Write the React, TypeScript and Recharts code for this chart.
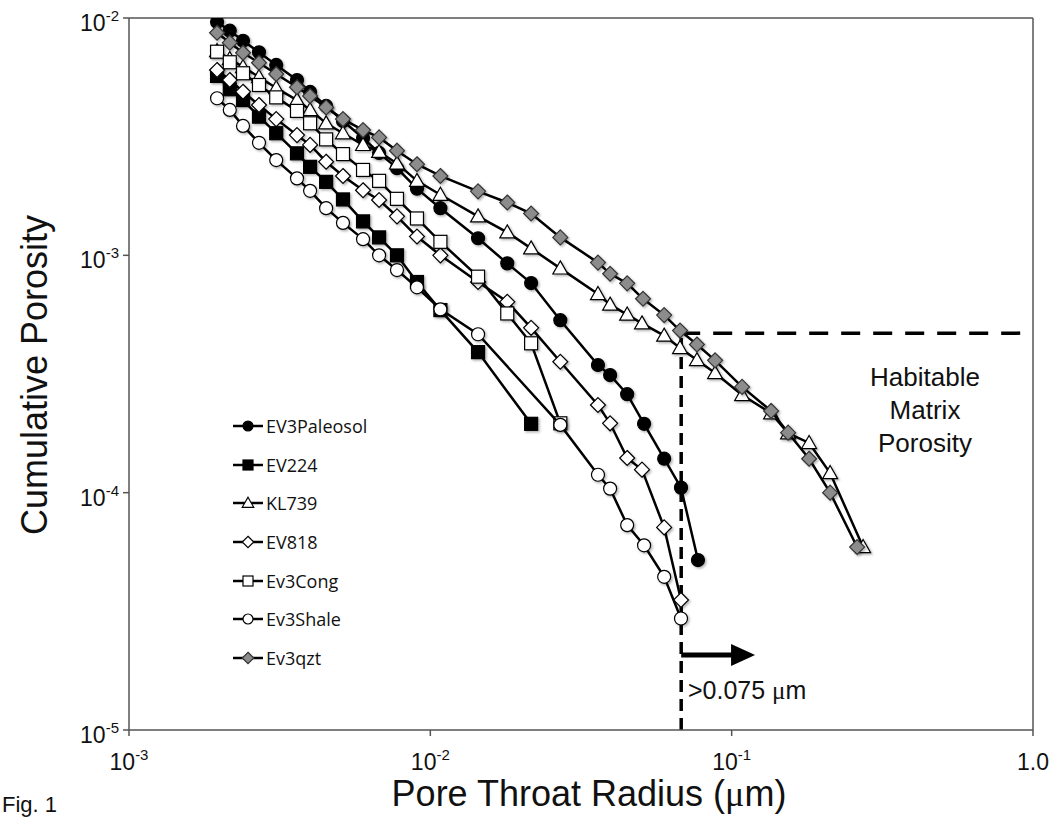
import { ScatterChart, Scatter, XAxis, YAxis, ReferenceLine, ReferenceDot, Legend } from 'recharts';

// pore throat radius (µm) vs cumulative porosity
const paleosol = [
  { r: 0.00196, p: 0.00962 }, { r: 0.00216, p: 0.00884 }, { r: 0.00239, p: 0.00802 }, { r: 0.0027, p: 0.00717 },
  { r: 0.00308, p: 0.00634 }, { r: 0.00361, p: 0.00548 }, { r: 0.00399, p: 0.00488 }, { r: 0.00451, p: 0.00426 },
  { r: 0.00513, p: 0.00368 }, { r: 0.00598, p: 0.00312 }, { r: 0.00676, p: 0.0027 }, { r: 0.00775, p: 0.00233 },
  { r: 0.00903, p: 0.00191 }, { r: 0.0108, p: 0.00158 }, { r: 0.0144, p: 0.00118 }, { r: 0.018, p: 0.000925 },
  { r: 0.0216, p: 0.000764 }, { r: 0.027, p: 0.000533 }, { r: 0.036, p: 0.000345 }, { r: 0.0395, p: 0.000313 },
  { r: 0.045, p: 0.00026 }, { r: 0.0512, p: 0.000195 }, { r: 0.0597, p: 0.000139 }, { r: 0.0679, p: 0.000105 },
  { r: 0.0773, p: 0.000052 },
];

const ev224 = [
  { r: 0.00196, p: 0.0057 }, { r: 0.00216, p: 0.00501 }, { r: 0.00239, p: 0.00451 }, { r: 0.0027, p: 0.00384 },
  { r: 0.00308, p: 0.00327 }, { r: 0.00361, p: 0.00269 }, { r: 0.00399, p: 0.00236 }, { r: 0.00451, p: 0.00204 },
  { r: 0.00513, p: 0.00172 }, { r: 0.00598, p: 0.00139 }, { r: 0.00676, p: 0.00119 }, { r: 0.00775, p: 0.001 },
  { r: 0.00903, p: 0.000772 }, { r: 0.0108, p: 0.000588 }, { r: 0.0144, p: 0.000391 }, { r: 0.0216, p: 0.000195 },
];

const kl739 = [
  { r: 0.00196, p: 0.00726 }, { r: 0.00216, p: 0.00672 }, { r: 0.00239, p: 0.00622 }, { r: 0.0027, p: 0.00564 },
  { r: 0.00308, p: 0.00507 }, { r: 0.00361, p: 0.00451 }, { r: 0.00399, p: 0.0041 }, { r: 0.00451, p: 0.0036 },
  { r: 0.00513, p: 0.00327 }, { r: 0.00598, p: 0.00292 }, { r: 0.00676, p: 0.00273 }, { r: 0.00775, p: 0.00244 },
  { r: 0.00903, p: 0.00206 }, { r: 0.0108, p: 0.0018 }, { r: 0.0144, p: 0.00146 }, { r: 0.018, p: 0.00125 },
  { r: 0.0216, p: 0.00107 }, { r: 0.027, p: 0.000881 }, { r: 0.036, p: 0.000687 }, { r: 0.0395, p: 0.00062 },
  { r: 0.045, p: 0.000563 }, { r: 0.0504, p: 0.000517 }, { r: 0.0597, p: 0.000459 }, { r: 0.0674, p: 0.000407 },
  { r: 0.0767, p: 0.000362 }, { r: 0.0881, p: 0.000319 }, { r: 0.1083, p: 0.000258 }, { r: 0.1352, p: 0.000216 },
  { r: 0.1539, p: 0.000178 }, { r: 0.1807, p: 0.000162 }, { r: 0.2122, p: 0.000121 }, { r: 0.273, p: 0.000059 },
];

const ev818 = [
  { r: 0.00196, p: 0.00604 }, { r: 0.00216, p: 0.00548 }, { r: 0.00239, p: 0.00489 }, { r: 0.0027, p: 0.0043 },
  { r: 0.00308, p: 0.00375 }, { r: 0.00361, p: 0.00321 }, { r: 0.00399, p: 0.00292 }, { r: 0.00451, p: 0.00248 },
  { r: 0.00513, p: 0.00216 }, { r: 0.00598, p: 0.00188 }, { r: 0.00676, p: 0.00171 }, { r: 0.00775, p: 0.00146 },
  { r: 0.00903, p: 0.0012 }, { r: 0.0108, p: 0.001 }, { r: 0.0144, p: 0.000772 }, { r: 0.018, p: 0.000637 },
  { r: 0.0216, p: 0.000495 }, { r: 0.027, p: 0.000356 }, { r: 0.036, p: 0.000234 }, { r: 0.0395, p: 0.000196 },
  { r: 0.045, p: 0.00014 }, { r: 0.0504, p: 0.000125 }, { r: 0.0597, p: 0.0000714 }, { r: 0.0679, p: 0.0000353 },
];

const cong = [
  { r: 0.00196, p: 0.00721 }, { r: 0.00216, p: 0.00651 }, { r: 0.00239, p: 0.00585 }, { r: 0.0027, p: 0.00522 },
  { r: 0.00308, p: 0.00463 }, { r: 0.00361, p: 0.00406 }, { r: 0.00399, p: 0.0036 }, { r: 0.00451, p: 0.00308 },
  { r: 0.00513, p: 0.00267 }, { r: 0.00598, p: 0.00229 }, { r: 0.00676, p: 0.00206 }, { r: 0.00775, p: 0.00173 },
  { r: 0.00903, p: 0.00143 }, { r: 0.0108, p: 0.00114 }, { r: 0.0144, p: 0.000813 }, { r: 0.018, p: 0.000569 },
  { r: 0.0216, p: 0.000426 }, { r: 0.027, p: 0.000196 },
];

const shale = [
  { r: 0.00196, p: 0.00459 }, { r: 0.00216, p: 0.0041 }, { r: 0.00239, p: 0.00351 }, { r: 0.0027, p: 0.00298 },
  { r: 0.00308, p: 0.00252 }, { r: 0.00361, p: 0.00211 }, { r: 0.00399, p: 0.00187 }, { r: 0.00451, p: 0.00158 },
  { r: 0.00513, p: 0.00137 }, { r: 0.00598, p: 0.00117 }, { r: 0.00676, p: 0.001 }, { r: 0.00775, p: 0.000867 },
  { r: 0.00903, p: 0.000733 }, { r: 0.0108, p: 0.000592 }, { r: 0.0144, p: 0.000465 }, { r: 0.027, p: 0.000193 },
  { r: 0.036, p: 0.000119 }, { r: 0.0395, p: 0.000104 }, { r: 0.045, p: 0.000073 }, { r: 0.0512, p: 0.00006 },
  { r: 0.0597, p: 0.0000442 }, { r: 0.0679, p: 0.0000295 },
];

const qzt = [
  { r: 0.00196, p: 0.00867 }, { r: 0.00216, p: 0.00787 }, { r: 0.00239, p: 0.00714 }, { r: 0.0027, p: 0.00648 },
  { r: 0.00308, p: 0.00581 }, { r: 0.00361, p: 0.00511 }, { r: 0.00399, p: 0.00469 }, { r: 0.00451, p: 0.0042 },
  { r: 0.00513, p: 0.00375 }, { r: 0.00598, p: 0.00337 }, { r: 0.00676, p: 0.00314 }, { r: 0.00775, p: 0.00276 },
  { r: 0.00903, p: 0.00242 }, { r: 0.0108, p: 0.00216 }, { r: 0.0144, p: 0.00186 }, { r: 0.018, p: 0.00167 },
  { r: 0.0216, p: 0.0015 }, { r: 0.027, p: 0.00119 }, { r: 0.036, p: 0.000932 }, { r: 0.0395, p: 0.000836 },
  { r: 0.045, p: 0.000762 }, { r: 0.0508, p: 0.000656 }, { r: 0.0597, p: 0.00056 }, { r: 0.0674, p: 0.000482 },
  { r: 0.0767, p: 0.000421 }, { r: 0.0881, p: 0.000361 }, { r: 0.1083, p: 0.000279 }, { r: 0.1352, p: 0.000221 },
  { r: 0.1539, p: 0.000179 }, { r: 0.1807, p: 0.000139 }, { r: 0.2122, p: 0.0001 }, { r: 0.2608, p: 0.000059 },
];

const xTicks = [0.001, 0.01, 0.1, 1];
const yTicks = [0.00001, 0.0001, 0.001, 0.01];

const cutoffRadius = 0.068;
const cutoffPorosity = 0.00047;
const arrowPorosity = 0.0000207;
const arrowTip = 0.1196;

const FONT = '"Liberation Sans", Arial, sans-serif';
const AXIS = '#555';
const GREY = '#8c8c8c';

type Kind = 'circle' | 'square' | 'triangle' | 'diamond';

function marker(kind: Kind, fill: string, cx: number, cy: number, s: number, shadow = true) {
  const common = {
    fill,
    stroke: fill === GREY ? '#333' : '#000',
    strokeWidth: 1.2,
    filter: shadow ? 'url(#mkShadow)' : undefined,
  };
  if (kind === 'circle') return <circle cx={cx} cy={cy} r={s} {...common} />;
  if (kind === 'square') return <rect x={cx - s} y={cy - s} width={s * 2} height={s * 2} {...common} />;
  if (kind === 'triangle') {
    const h = s * 1.15;
    return <polygon points={`${cx},${cy - h} ${cx + s * 1.15},${cy + h * 0.75} ${cx - s * 1.15},${cy + h * 0.75}`} {...common} />;
  }
  const d = s * 1.15;
  return <polygon points={`${cx},${cy - d} ${cx + d},${cy} ${cx},${cy + d} ${cx - d},${cy}`} {...common} />;
}

const series: { name: string; data: { r: number; p: number }[]; kind: Kind; fill: string }[] = [
  { name: 'EV3Paleosol', data: paleosol, kind: 'circle', fill: '#000' },
  { name: 'EV224', data: ev224, kind: 'square', fill: '#000' },
  { name: 'KL739', data: kl739, kind: 'triangle', fill: '#fff' },
  { name: 'EV818', data: ev818, kind: 'diamond', fill: '#fff' },
  { name: 'Ev3Cong', data: cong, kind: 'square', fill: '#fff' },
  { name: 'Ev3Shale', data: shale, kind: 'circle', fill: '#fff' },
  { name: 'Ev3qzt', data: qzt, kind: 'diamond', fill: GREY },
];

const XTick = ({ x, y, payload }: any) => {
  const v = payload.value;
  const base = { x, y: y + 34, textAnchor: 'middle' as const, fontSize: 23, fill: '#111', fontFamily: FONT };
  if (v >= 1) return <text {...base}>1.0</text>;
  return (
    <text {...base}>
      10<tspan dy={-10} fontSize={15}>{Math.round(Math.log10(v))}</tspan>
    </text>
  );
};

const YTick = ({ x, y, payload }: any) => (
  <text x={x - 4} y={y + 13} textAnchor="end" fontSize={23} fill="#111" fontFamily={FONT}>
    10<tspan dy={-10} fontSize={15}>{Math.round(Math.log10(payload.value))}</tspan>
  </text>
);

const LegendBox = () => (
  <div style={{ fontFamily: '"Open Sans", sans-serif', fontSize: 18, color: '#111' }}>
    {series.map((s) => (
      <div key={s.name} style={{ display: 'flex', alignItems: 'center', height: 38.6 }}>
        <svg width={32} height={20} style={{ marginRight: 2 }}>
          <line x1={1} y1={10} x2={31} y2={10} stroke="#000" strokeWidth={2.5} />
          {marker(s.kind, s.fill, 16, 10, 5, false)}
        </svg>
        <span>{s.name}</span>
      </div>
    ))}
  </div>
);

const ArrowHead = ({ cx, cy }: any) => (
  <polygon points={`${cx},${cy} ${cx - 24},${cy - 11} ${cx - 24},${cy + 11}`} fill="#000" />
);

export default function App() {
  return (
    <div style={{ position: 'absolute', left: 0, top: 0, width: 1057, height: 817, background: '#fff' }}>
      <svg width={0} height={0} style={{ position: 'absolute' }}>
        <defs>
          <filter id="mkShadow" x="-50%" y="-50%" width="200%" height="200%">
            <feDropShadow dx={1.5} dy={1.5} stdDeviation={1.2} floodColor="#000" floodOpacity={0.3} />
          </filter>
        </defs>
      </svg>
      <ScatterChart width={1057} height={817} margin={{ top: 18, right: 24, bottom: 47, left: 69 }}>
        <XAxis
          type="number"
          dataKey="r"
          scale="log"
          domain={[0.001, 1]}
          allowDataOverflow
          ticks={xTicks}
          height={40}
          stroke={AXIS}
          strokeWidth={1.5}
          tickSize={6}
          tickMargin={0}
          tick={<XTick />}
        />
        <YAxis
          type="number"
          dataKey="p"
          scale="log"
          domain={[0.00001, 0.01]}
          allowDataOverflow
          ticks={yTicks}
          width={60}
          stroke={AXIS}
          strokeWidth={1.5}
          tickSize={6}
          tickMargin={0}
          tick={<YTick />}
        />
        <ReferenceLine y={0.01} stroke={AXIS} strokeWidth={1.5} />
        <ReferenceLine x={1} stroke={AXIS} strokeWidth={1.5} />
        {series.map((s) => (
          <Scatter
            key={s.name}
            name={s.name}
            data={s.data}
            line={{ stroke: '#000', strokeWidth: 2.5 }}
            lineType="joint"
            isAnimationActive={false}
            shape={(props: any) => marker(s.kind, s.fill, props.cx, props.cy, 6.5)}
          />
        ))}
        <ReferenceLine
          segment={[{ x: cutoffRadius, y: 0.00001 }, { x: cutoffRadius, y: cutoffPorosity }]}
          stroke="#000"
          strokeWidth={3.5}
          strokeDasharray="12 7"
        />
        <ReferenceLine
          segment={[{ x: cutoffRadius, y: cutoffPorosity }, { x: 1, y: cutoffPorosity }]}
          stroke="#000"
          strokeWidth={3.5}
          strokeDasharray="19 13"
        />
        <ReferenceLine
          segment={[{ x: cutoffRadius, y: arrowPorosity }, { x: 0.108, y: arrowPorosity }]}
          stroke="#000"
          strokeWidth={5}
        />
        <ReferenceDot x={arrowTip} y={arrowPorosity} r={0} shape={<ArrowHead />} />
        <Legend
          layout="horizontal"
          verticalAlign="middle"
          align="center"
          content={<LegendBox />}
          wrapperStyle={{ position: 'absolute', left: 232, top: 407, width: 200 }}
        />
      </ScatterChart>
      <svg
        width={1057}
        height={817}
        style={{ position: 'absolute', left: 0, top: 0, pointerEvents: 'none' }}
        fontFamily={FONT}
        fill="#111"
      >
        <text x={47} y={375} fontSize={36} textAnchor="middle" transform="rotate(-90 47 375)">
          Cumulative Porosity
        </text>
        <text x={589} y={806} fontSize={36} textAnchor="middle">
          Pore Throat Radius (<tspan fontFamily='"Liberation Serif", serif'>μ</tspan>m)
        </text>
        <text x={2} y={812} fontSize={22}>
          Fig. 1
        </text>
        <text x={925} fontSize={26} textAnchor="middle">
          <tspan x={925} y={386}>Habitable</tspan>
          <tspan x={925} y={419}>Matrix</tspan>
          <tspan x={925} y={452}>Porosity</tspan>
        </text>
        <text x={688} y={699} fontSize={25}>
          {'>0.075 '}
          <tspan fontFamily='"Liberation Serif", serif'>μ</tspan>m
        </text>
      </svg>
    </div>
  );
}
